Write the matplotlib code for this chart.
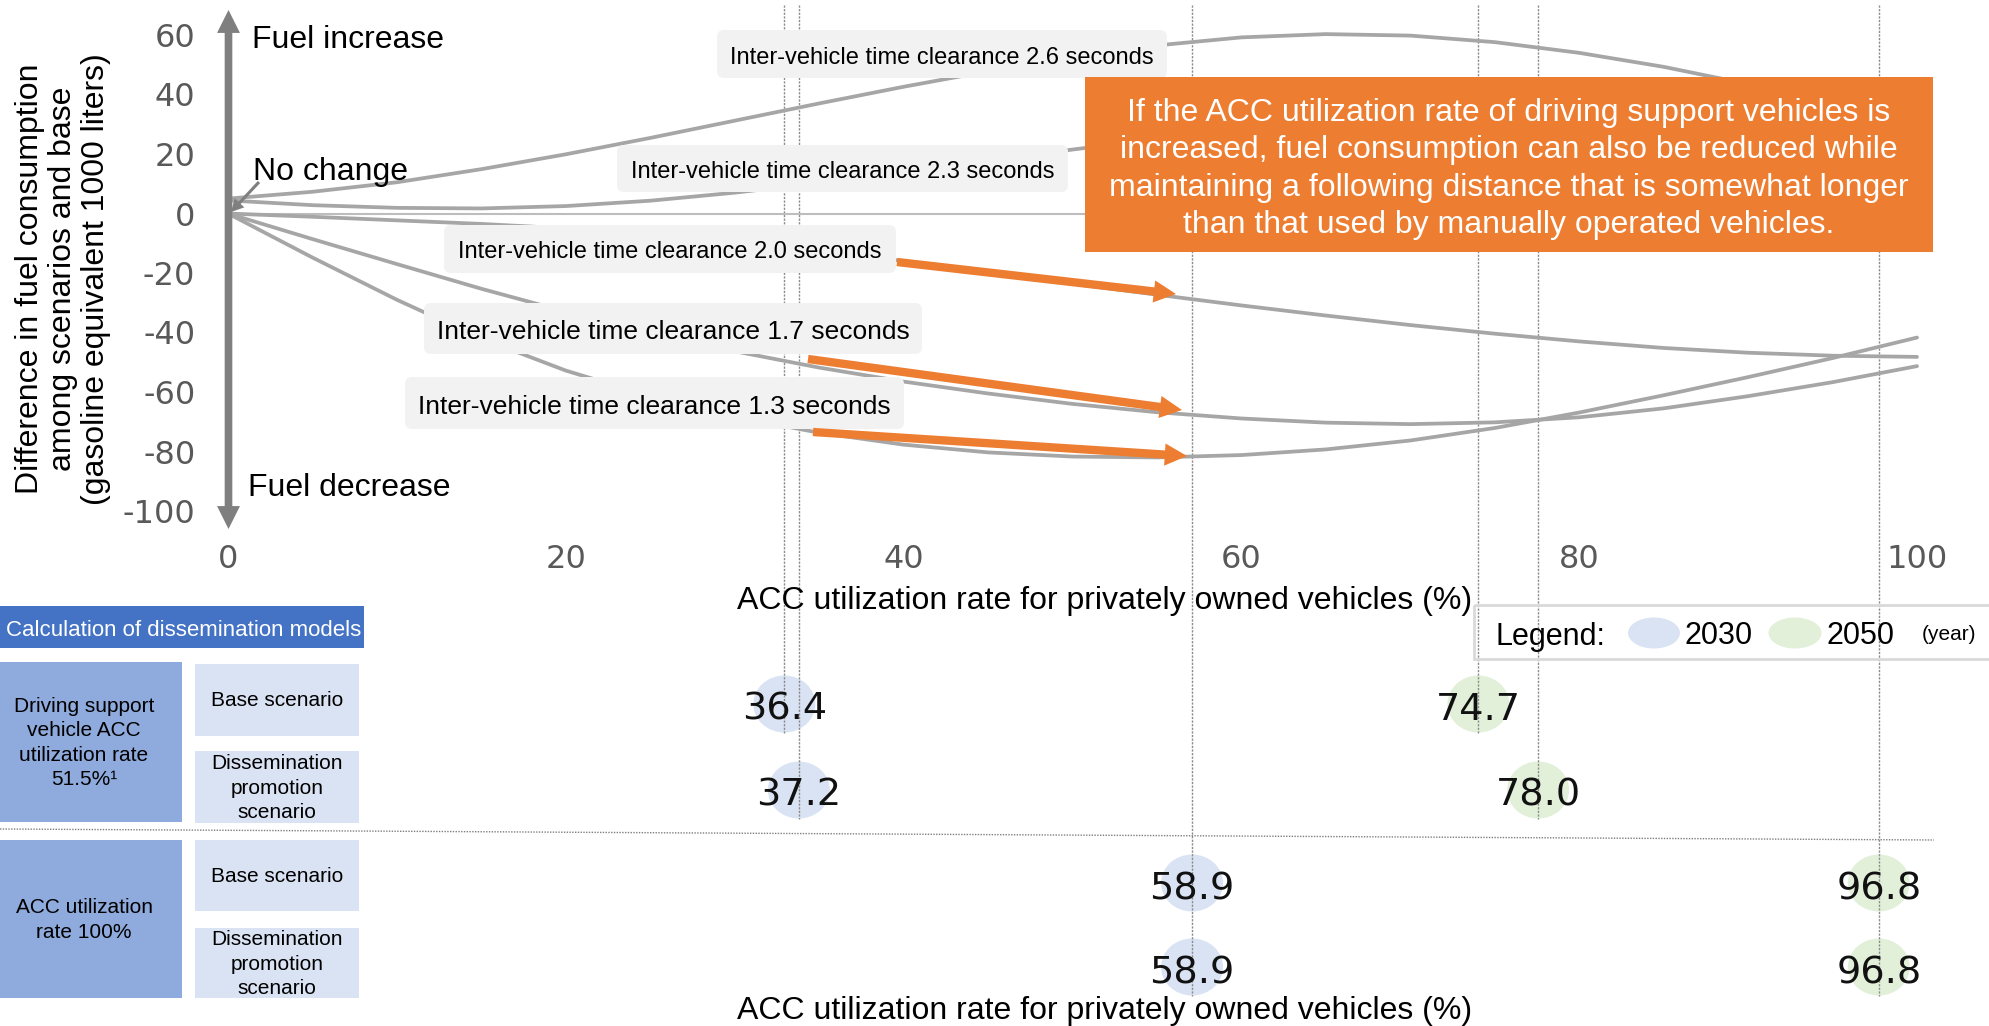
import matplotlib
matplotlib.use("Agg")
import matplotlib.pyplot as plt
from matplotlib.patches import Rectangle, FancyBboxPatch, Ellipse
from matplotlib.transforms import Affine2D

plt.rcParams["font.family"] = ["Liberation Sans", "DejaVu Sans"]
plt.rcParams["axes.unicode_minus"] = False

# ---------------------------------------------------------------------------
# Fuel consumption difference vs. ACC utilization rate (1000 L gasoline eq.)
# ---------------------------------------------------------------------------
acc_rate = [0, 5, 10, 15, 20, 25, 30, 35, 40, 45, 50,
            55, 60, 65, 70, 75, 80, 85, 90, 95, 100]

gap_2_6 = [5.0, 7.3, 10.5, 14.9, 19.9, 25.4, 31.2, 37.0, 42.6, 47.8, 52.6,
           56.5, 59.2, 60.3, 59.8, 57.6, 54.0, 49.3, 43.5, 36.7, 29.0]
gap_2_3 = [4.4, 2.8, 1.9, 1.7, 2.5, 4.3, 7.0, 10.3, 13.9, 17.7, 21.5,
           25.0, 28.0, 30.3, 31.6, 32.0, 31.3, 29.5, 26.5, 22.5, 17.5]
gap_2_0 = [0.0, -1.1, -2.3, -3.5, -5.0, -7.0, -9.5, -12.5, -16.0, -19.8, -23.6,
           -27.3, -30.9, -34.3, -37.5, -40.4, -43.0, -45.2, -46.8, -47.8, -48.2]
gap_1_7 = [0.0, -8.6, -17.0, -25.3, -33.0, -40.0, -46.3, -51.8, -56.5, -60.5, -64.0,
           -66.8, -68.9, -70.3, -70.8, -70.2, -68.5, -65.5, -61.4, -56.7, -51.3]
gap_1_3 = [0.0, -14.8, -29.0, -42.0, -52.8, -61.4, -68.3, -73.7, -77.7, -80.3, -81.7,
           -82.0, -81.2, -79.3, -76.3, -72.1, -66.9, -61.1, -55.0, -48.6, -41.7]

clearance_labels = [
    "Inter-vehicle time clearance 2.6 seconds",
    "Inter-vehicle time clearance 2.3 seconds",
    "Inter-vehicle time clearance 2.0 seconds",
    "Inter-vehicle time clearance 1.7 seconds",
    "Inter-vehicle time clearance 1.3 seconds",
]

x_ticks = [0, 20, 40, 60, 80, 100]
y_ticks = [60, 40, 20, 0, -20, -40, -60, -80, -100]

x_title = "ACC utilization rate for privately owned vehicles (%)"
y_title = ("Difference in fuel consumption\namong scenarios and base\n"
           "(gasoline equivalent 1000 liters)")
note_text = ("If the ACC utilization rate of driving support vehicles is\n"
             "increased, fuel consumption can also be reduced while\n"
             "maintaining a following distance that is somewhat longer\n"
             "than that used by manually operated vehicles.")

# ---------------------------------------------------------------------------
# Dissemination model results (ACC utilization rate, %)
# ---------------------------------------------------------------------------
table_title = "Calculation of dissemination models"
scenario_groups = ["Driving support\nvehicle ACC\nutilization rate\n51.5%\u00b9",
                   "ACC utilization\nrate 100%"]
scenario_names = ["Base scenario", "Dissemination\npromotion\nscenario",
                  "Base scenario", "Dissemination\npromotion\nscenario"]
rate_2030 = [36.4, 37.2, 58.9, 58.9]
rate_2050 = [74.7, 78.0, 96.8, 96.8]

# ---------------------------------------------------------------------------
# Styling
# ---------------------------------------------------------------------------
CURVE = "#a6a6a6"
AXIS_GRAY = "#7f7f7f"
TICK_GRAY = "#595959"
ORANGE = "#ED7D31"
LABEL_BG = "#f2f2f2"
HEADER_BLUE = "#4472C4"
GROUP_BLUE = "#8FAADC"
CELL_BLUE = "#DAE3F3"
C2030 = "#DAE3F3"
C2050 = "#E2F0D9"

W, H = 1990, 1026
fig = plt.figure(figsize=(W / 100, H / 100), dpi=100)
# pixel coordinates measured from the top-left corner of the canvas
PX = Affine2D().scale(1 / W, -1 / H).translate(0, 1) + fig.transFigure

# ---------------------------------------------------------------------------
# Lower panel: rate bubbles share their own horizontal scale
# ---------------------------------------------------------------------------
RATE_OFFSET, RATE_SCALE = 124.8, 18.12          # pixel = offset + scale * rate
ax_rate = fig.add_axes([0, 0, 1, 1], zorder=0)
ax_rate.set_xlim(-RATE_OFFSET / RATE_SCALE, (W - RATE_OFFSET) / RATE_SCALE)
ax_rate.set_ylim(H, 0)
ax_rate.axis("off")

row_y = [704, 790, 883, 967]
bubble_w, bubble_h = 62 / RATE_SCALE, 57

for rates, colour in ((rate_2030, C2030), (rate_2050, C2050)):
    last_row = {}
    for r, v in enumerate(rates):
        ax_rate.add_patch(Ellipse((v, row_y[r]), bubble_w, bubble_h,
                                  fc=colour, ec="none", zorder=1))
        ax_rate.text(v, row_y[r] + 2, f"{v:.1f}", fontsize=27.5,
                     family="DejaVu Sans", color="#111111",
                     ha="center", va="center_baseline", zorder=3)
        last_row[v] = r
    for v, r in last_row.items():
        ax_rate.plot([v, v], [5, row_y[r] + bubble_h / 2], color="#8c8c8c",
                     lw=1.0, ls=(0, (1.6, 1.0)), zorder=2)

# ---------------------------------------------------------------------------
# Upper panel: fuel consumption curves
# ---------------------------------------------------------------------------
X0, X100, Y60, YM100 = 228, 1917, 35, 511
ax = fig.add_axes([X0 / W, 1 - YM100 / H, (X100 - X0) / W, (YM100 - Y60) / H],
                  zorder=1)
ax.set_facecolor("none")
for s in ax.spines.values():
    s.set_visible(False)

ax.axhline(0, color="#bdbdbd", lw=1.5, zorder=1.5)
for series in (gap_2_6, gap_2_3, gap_2_0, gap_1_7, gap_1_3):
    ax.plot(acc_rate, series, color=CURVE, lw=2.7, zorder=2,
            solid_capstyle="round", solid_joinstyle="round", clip_on=False)

ax.set_xlim(0, 100)
ax.set_ylim(-100, 60)
ax.set_xticks(x_ticks)
ax.set_yticks(y_ticks)
ax.tick_params(length=0, labelsize=23, labelcolor=TICK_GRAY)
ax.tick_params(axis="y", pad=23.5)
ax.tick_params(axis="x", pad=24)
for lab in ax.get_xticklabels() + ax.get_yticklabels():
    lab.set_fontfamily("DejaVu Sans")

# vertical double-headed axis arrow
arrow_mid = 270
for end in (10, 529):
    ax.annotate("", xy=(228.5, end), xytext=(228.5, arrow_mid),
                xycoords=PX, textcoords=PX, annotation_clip=False,
                arrowprops=dict(arrowstyle="simple,head_length=1.65,head_width=1.65,tail_width=0.55",
                                color=AXIS_GRAY, shrinkA=0, shrinkB=0,
                                mutation_scale=10, lw=0), zorder=6)

ax.text(252, 48, "Fuel increase", transform=PX, fontsize=23, va="baseline")
ax.text(253, 180, "No change", transform=PX, fontsize=23, va="baseline")
ax.text(248, 496, "Fuel decrease", transform=PX, fontsize=23, va="baseline")
ax.annotate("", xy=(231, 212), xytext=(259, 182), xycoords=PX, textcoords=PX,
            annotation_clip=False,
            arrowprops=dict(arrowstyle="simple,head_length=0.9,head_width=0.95,tail_width=0.22",
                            color=AXIS_GRAY, shrinkA=0, shrinkB=0,
                            mutation_scale=10, lw=0), zorder=6)

# clearance label boxes: (left, right, top, bottom, font size)
label_boxes = [(717, 1167, 30, 78, 17),
               (617, 1068, 145, 192, 17),
               (444, 896, 225, 273, 17),
               (424, 922, 303, 354, 19),
               (405, 904, 377, 429, 19)]
for text, (l, r, t, b, fs) in zip(clearance_labels, label_boxes):
    ax.add_patch(FancyBboxPatch((l, t), r - l, b - t,
                                boxstyle="round,pad=0,rounding_size=7",
                                transform=PX, fc=LABEL_BG, ec="none",
                                zorder=3, clip_on=False))
    ax.text((l + r) / 2, (t + b) / 2 + 1, text, transform=PX, fontsize=fs,
            ha="center", va="center_baseline", zorder=4)

# orange call-out
ax.add_patch(Rectangle((1085, 77), 848, 175, transform=PX, fc=ORANGE,
                       ec="none", zorder=5, clip_on=False))
ax.text(1509, 169, note_text, transform=PX, color="white", fontsize=23,
        ha="center", va="center", multialignment="center",
        linespacing=1.33, zorder=6)

for tail, tip in (((897, 262), (1176, 294)),
                  ((808, 359), (1182, 410)),
                  ((813, 432), (1187, 456))):
    ax.annotate("", xy=tip, xytext=tail, xycoords=PX, textcoords=PX,
                annotation_clip=False,
                arrowprops=dict(arrowstyle="simple,head_length=1.6,head_width=1.6,tail_width=0.6",
                                color=ORANGE, shrinkA=0, shrinkB=0,
                                mutation_scale=10, lw=0), zorder=7)

# axis titles
fig.text(63, 279, y_title, transform=PX, fontsize=23, rotation=90,
         ha="center", va="center", multialignment="center", linespacing=1.12)
fig.text(1105, 598, x_title, transform=PX, fontsize=23,
         ha="center", va="center_baseline")
fig.text(1105, 1007, x_title, transform=PX, fontsize=23,
         ha="center", va="center_baseline")

# ---------------------------------------------------------------------------
# Scenario table on the left
# ---------------------------------------------------------------------------
fig.add_artist(Rectangle((0, 606), 364, 42, transform=PX, fc=HEADER_BLUE,
                         ec="none", zorder=2))
fig.text(6, 628, table_title, transform=PX, color="white", fontsize=16,
         ha="left", va="center_baseline", zorder=3)

group_boxes = [(662, 822), (840, 998)]
for txt, (t, b) in zip(scenario_groups, group_boxes):
    fig.add_artist(Rectangle((0, t), 182, b - t, transform=PX, fc=GROUP_BLUE,
                             ec="none", zorder=2))
    fig.text(84, (t + b) / 2 + 1, txt, transform=PX, fontsize=15,
             ha="center", va="center", multialignment="center",
             linespacing=1.36, zorder=3)

cell_boxes = [(664, 736), (751, 823), (840, 911), (928, 998)]
for txt, (t, b) in zip(scenario_names, cell_boxes):
    fig.add_artist(Rectangle((195, t), 164, b - t, transform=PX, fc=CELL_BLUE,
                             ec="none", zorder=2))
    fig.text(277, (t + b) / 2 + 1, txt, transform=PX, fontsize=15,
             ha="center", va="center", multialignment="center",
             linespacing=1.36, zorder=3)

fig.add_artist(plt.Line2D([0, 1934], [829, 840], transform=PX,
                          color=AXIS_GRAY, lw=1.0, ls=(0, (1, 1)), zorder=2))

# legend
fig.add_artist(Rectangle((1474, 605), 530, 54, transform=PX, fc="none",
                         ec="#d9d9d9", lw=2, zorder=2))
fig.text(1495, 633, "Legend:", transform=PX, fontsize=22,
         ha="left", va="center_baseline", zorder=3)
fig.add_artist(Ellipse((1654, 633), 52, 31, transform=PX, fc=C2030,
                       ec="none", zorder=2))
fig.text(1685, 633, "2030", transform=PX, fontsize=22,
         ha="left", va="center_baseline", zorder=3)
fig.add_artist(Ellipse((1795, 633), 53, 31, transform=PX, fc=C2050,
                       ec="none", zorder=2))
fig.text(1827, 633, "2050", transform=PX, fontsize=22,
         ha="left", va="center_baseline", zorder=3)
fig.text(1922, 633, "(year)", transform=PX, fontsize=15,
         ha="left", va="center_baseline", zorder=3)

fig.savefig("out.png", dpi=100, facecolor="white")
